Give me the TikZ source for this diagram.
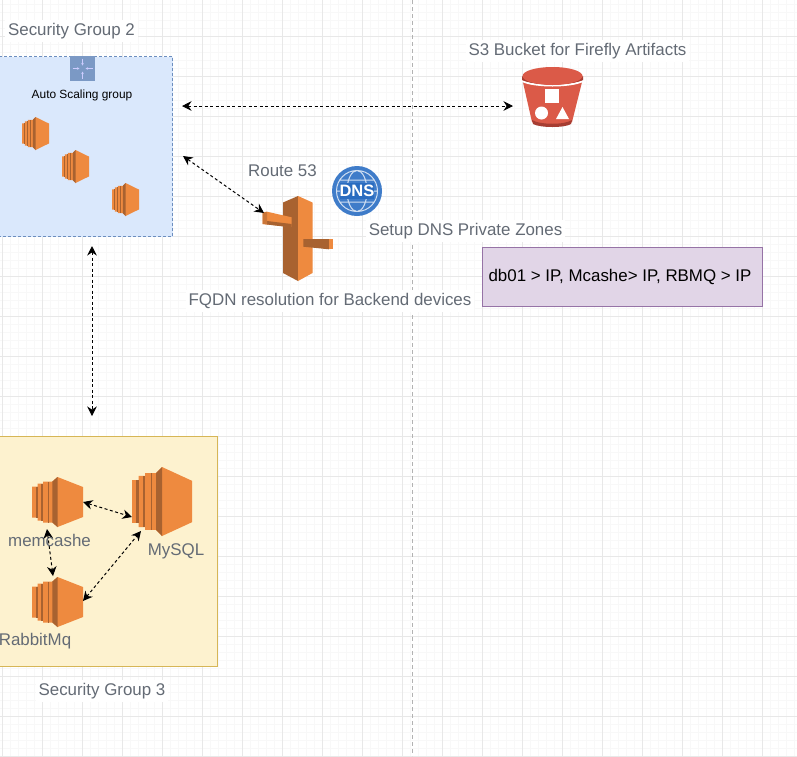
\documentclass[tikz,border=0pt]{standalone}
\usepackage{fontspec}
\setmainfont{Liberation Sans}
\usetikzlibrary{arrows.meta}
\definecolor{gridminor}{HTML}{F8F8F8}
\definecolor{gridmajor}{HTML}{E8E8E8}
\definecolor{labelgray}{HTML}{646B75}
\definecolor{orangeL}{HTML}{EE8A3F}
\definecolor{orangeD}{HTML}{A86230}
\definecolor{bucketL}{HTML}{DB5A48}
\definecolor{bucketD}{HTML}{A63D32}
\definecolor{blueback}{HTML}{DAE8FC}
\definecolor{blueline}{HTML}{6C8EBF}
\definecolor{yellowback}{HTML}{FDF2CF}
\definecolor{yellowline}{HTML}{D6B656}
\definecolor{purpleback}{HTML}{E1D5E7}
\definecolor{purpleline}{HTML}{9673A6}
\definecolor{dnsblue}{HTML}{3F7CC9}
\definecolor{dnsdark}{HTML}{2A6CC0}
\tikzset{
  lbl/.style={text=labelgray,font=\fontsize{16.9pt}{19pt}\selectfont,fill=white,inner xsep=3pt,inner ysep=3pt},
  lblclear/.style={text=labelgray,font=\fontsize{16.9pt}{19pt}\selectfont,inner sep=0pt},
  link/.style={dash pattern=on 3pt off 2.5pt,line width=1pt,{Stealth[length=9.5pt,width=9.5pt]}-{Stealth[length=9.5pt,width=9.5pt]}},
}
% one instance icon: left, top, width, height
\newcommand{\ecinst}[4]{
  \begin{scope}[shift={(#1,#2)},x=#3pt,y=-#4pt]
    \fill[orangeL] (0,.19) -- (.11,.19) -- (.11,.13) -- (.22,.13) -- (.22,.09) -- (.40,.09) -- (.5,0)
      -- (1,.2) -- (1,.8) -- (.5,1) -- (.40,.91) -- (.22,.91) -- (.22,.87) -- (.11,.87) -- (.11,.81) -- (0,.81) -- cycle;
    \fill[orangeD] (.40,.09) -- (.5,0) -- (.5,1) -- (.40,.91) -- cycle;
    \fill[orangeD] (.31,.09) rectangle (.34,.91);
    \fill[orangeD] (.18,.13) rectangle (.22,.87);
    \fill[orangeD] (.07,.19) rectangle (.11,.81);
  \end{scope}
}
\begin{document}
\begin{tikzpicture}[x=1pt,y=-1pt]
  \useasboundingbox (0,0) rectangle (797,756);
  \fill[white] (0,0) rectangle (797,756);
%
  % page grid
  \foreach \gx in {2,10,...,797} \draw[gridminor,line width=0.7pt] (\gx,0) -- (\gx,756);
  \foreach \gy in {4,12,...,756} \draw[gridminor,line width=0.7pt] (0,\gy) -- (797,\gy);
  \foreach \gx in {2,42,...,797} \draw[gridmajor,line width=0.8pt] (\gx,0) -- (\gx,756);
  \foreach \gy in {36,76,...,756} \draw[gridmajor,line width=0.8pt] (0,\gy) -- (797,\gy);
  \draw[gray!60,dash pattern=on 4pt off 3pt,line width=0.6pt] (412,0) -- (412,756);
%
  % groups
  \draw[fill=blueback,draw=blueline,densely dashed,line width=0.8pt] (-2,56.5) rectangle (172.5,236.5);
  \draw[fill=yellowback,draw=yellowline,line width=0.9pt] (-2,436.5) rectangle (217.5,666.5);
%
  % scaling badge
  \fill[blueline!90!white] (70,56) rectangle (95,81);
  \foreach \ang in {0,90,180,270} {
    \draw[white!80!blue,line width=0.5pt,-{Stealth[length=2.5pt,width=2.5pt]}] (82.5,68.5) ++(\ang:10) -- ++(\ang+180:7);
  }
  \node[font=\fontsize{11.9pt}{13pt}\selectfont] (asg) at (82,95) {Auto Scaling group};
%
  \ecinst{22}{117}{27}{33}
  \ecinst{62}{150}{27}{33}
  \ecinst{112}{183}{27}{33}
%
  \ecinst{32}{477}{51}{50}
  \ecinst{32}{577}{51}{50}
  \ecinst{132}{467}{60}{69}
%
  % route 53
  \fill[orangeD] (283,202.5) -- (298,196) -- (298,281) -- (283,273) -- cycle;
  \fill[orangeL] (298,196) -- (312.5,202.5) -- (312.5,273) -- (298,281) -- cycle;
  \fill[orangeL] (262.7,212.7) -- (267,211.7) -- (291.7,217.3) -- (291.7,227) -- (267,224.5) -- (262.7,224) -- cycle;
  \fill[orangeD] (267,221) -- (291.7,224) -- (291.7,227.5) -- (267,224.5) -- cycle;
  \fill[orangeD!50!orangeL] (262.7,212.7) -- (267,211.7) -- (267,224.5) -- (262.7,224) -- cycle;
  \fill[orangeD] (303.3,239) -- (329,239) -- (329,249.3) -- (303.3,246.7) -- cycle;
  \fill[orangeL] (329,239) rectangle (333,249.3);
%
  % dns badge
  \fill[dnsblue] (357,191) circle (25);
  \draw[white!75!dnsblue,line width=1pt] (357,191) circle (20.5) (357,191) ellipse (10 and 20.5) (336.5,191) -- (377.5,191) (340,180) -- (374,180) (340,202) -- (374,202);
  \fill[dnsdark] (340,183) rectangle (374,199);
  \node[white,font=\bfseries\fontsize{16.5pt}{17pt}\selectfont,inner sep=0pt] (dns) at (357,191) {DNS};
%
  % bucket
  \fill[bucketL] (522,78) -- (583,78) -- (572,122) .. controls (565,127) and (540,127) .. (532,122) -- cycle;
  \fill[bucketD] (532,120) .. controls (540,125) and (565,125) .. (572,120) -- (571,124) .. controls (565,128) and (540,128) .. (533,124) -- cycle;
  \fill[white] (522,80) .. controls (535,86) and (570,86) .. (583,80) -- (583,82) .. controls (570,88) and (535,88) .. (522,82) -- cycle;
  \fill[bucketD] (522,76) .. controls (530,86) and (575,86) .. (583,76) -- (583,80) .. controls (570,86) and (535,86) .. (522,80) -- cycle;
  \fill[bucketL] (552.5,76) ellipse (30 and 9);
  \fill[white] (545,89) rectangle (559,103);
  \fill[white] (541.5,113) circle (6.5);
  \fill[white] (556,119) -- (569,119) -- (562.5,107) -- cycle;
%
  % labels
  \node[lbl] (sg2) at (71.5,31) {Security Group 2};
  \node[lbl] (s3) at (577.5,51) {S3 Bucket for Firefly Artifacts};
  \node[lbl] (r53) at (282.5,171) {Route 53};
  \node[lbl] (zones) at (465.5,231) {Setup DNS Private Zones};
  \node[lbl] (fqdn) at (330,301) {FQDN resolution for Backend devices};
  \node[lblclear] (mem) at (49.5,540) {memcashe};
  \node[lblclear] (sql) at (176,551) {MySQL};
  \node[lblclear] (rab) at (35,641) {RabbitMq};
  \node[lbl] (sg3) at (102,691) {Security Group 3};
%
  % purple note
  \node[draw=purpleline,fill=purpleback,line width=0.9pt,minimum width=280pt,minimum height=59pt,inner sep=0pt,font=\fontsize{16.9pt}{19pt}\selectfont] (note) at (622.5,276.5) {\raisebox{2pt}{db01 > IP, Mcashe> IP, RBMQ > IP\hspace{5pt}}};
%
  % links
  \coordinate (groupE) at (182,106);
  \coordinate (bucketW) at (513,106);
  \coordinate (groupSE) at (183,156);
  \coordinate (routeW) at (264,213);
  \coordinate (groupS) at (92,246);
  \coordinate (dbN) at (92,416);
  \coordinate (memE) at (83,502);
  \coordinate (sqlW) at (132,517);
  \coordinate (memS) at (47,529);
  \coordinate (rabN) at (53,576);
  \coordinate (rabE) at (83,601);
  \coordinate (sqlS) at (141,531);
  \draw[link] (groupE) -- (bucketW);
  \draw[link] (groupSE) -- (routeW);
  \draw[link] (groupS) -- (dbN);
  \draw[link] (memE) -- (sqlW);
  \draw[link] (memS) -- (rabN);
  \draw[link] (rabE) -- (sqlS);
\end{tikzpicture}
\end{document}
